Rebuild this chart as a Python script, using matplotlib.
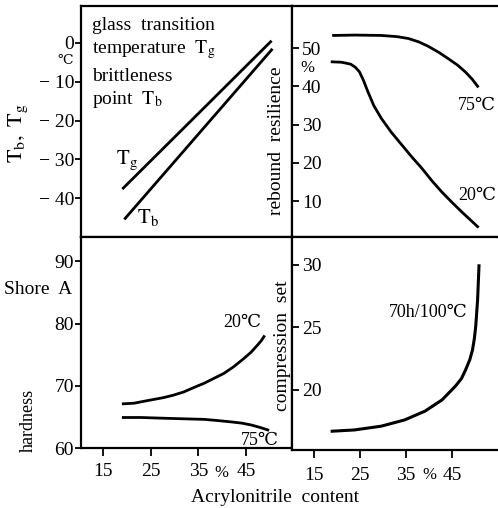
import matplotlib
matplotlib.use("Agg")
import matplotlib.pyplot as plt

plt.rcParams['font.family'] = ['Liberation Serif', 'DejaVu Serif', 'Noto Sans CJK SC']
plt.rcParams['mathtext.fontset'] = 'stix'

# --- data ---
# glass transition / brittleness (deg C) vs acrylonitrile content (%)
tg_x = [19.2, 50.2]
tg_y = [-37.4, 0.3]
tb_x = [19.6, 50.4]
tb_y = [-45.2, -1.8]

# rebound resilience (%)
res75_x = [19.3, 24.0, 29.6, 33.0, 35.5, 37.8, 39.9, 42.2, 44.3, 46.2, 47.9, 49.3, 50.5]
res75_y = [53.3, 53.4, 53.3, 53.0, 52.5, 51.6, 50.4, 48.8, 47.1, 45.5, 43.7, 41.9, 40.0]
res20_x = [19.0, 21.0, 23.0, 24.0, 24.9, 25.8, 26.7, 28.0, 29.6, 31.8, 34.0, 36.2, 38.4, 40.6, 42.8, 45.0, 47.2, 49.0, 50.5]
res20_y = [46.4, 46.3, 45.8, 45.0, 43.8, 41.5, 38.7, 35.0, 31.7, 28.0, 24.8, 21.6, 18.6, 15.3, 12.3, 9.6, 7.0, 5.0, 3.3]

# hardness (Shore A)
hard20_x = [19.2, 21.5, 23.5, 25.6, 27.7, 29.8, 31.9, 34.0, 36.2, 38.3, 40.4, 42.5, 44.6, 46.1, 47.4, 48.2, 48.8]
hard20_y = [67.1, 67.2, 67.5, 67.8, 68.1, 68.5, 69.0, 69.7, 70.4, 71.2, 72.0, 73.1, 74.4, 75.4, 76.5, 77.2, 77.9]
hard75_x = [19.2, 23.0, 27.0, 31.5, 36.2, 39.2, 41.8, 44.1, 46.1, 48.0, 49.6]
hard75_y = [64.9, 64.9, 64.8, 64.7, 64.6, 64.4, 64.2, 64.0, 63.7, 63.3, 62.9]

# compression set 70h/100C
cs_x = [19.0, 23.8, 29.6, 34.7, 39.1, 42.8, 45.7, 47.0, 47.9, 48.8, 49.4, 49.8, 50.1, 50.5, 50.8]
cs_y = [16.7, 16.8, 17.1, 17.6, 18.3, 19.2, 20.3, 20.9, 21.6, 22.4, 23.2, 24.1, 25.1, 27.2, 29.9]

x_ticks = [15, 25, 35, 45]

W, H = 498, 508
fig = plt.figure(figsize=(W / 100, H / 100), dpi=100)


def px_axes(x0, y0, x1, y1):
    return fig.add_axes([x0 / W, 1 - y1 / H, (x1 - x0) / W, (y1 - y0) / H])


ax_tl = px_axes(81, 6, 292, 237)
ax_tr = px_axes(292, 6, 497, 237)
ax_bl = px_axes(81, 237, 292, 448)
ax_br = px_axes(292, 237, 497, 450)

lw = 2.0
tick_fs = 14
txt_fs = 14

for ax in (ax_tl, ax_tr, ax_bl, ax_br):
    ax.set_xlim(10.3, 54.7)
    for s in ax.spines.values():
        s.set_linewidth(1.6)
    ax.tick_params(width=1.3, labelsize=tick_fs)

for ax in (ax_tr, ax_br):
    ax.spines['right'].set_visible(False)

# top-left: Tg / Tb
ax_tl.plot(tg_x, tg_y, color='black', lw=lw)
ax_tl.plot(tb_x, tb_y, color='black', lw=lw)
ax_tl.set_ylim(-50, 9.5)
ax_tl.set_yticks([0, -10, -20, -30, -40])
ax_tl.set_yticklabels(['0', '\u2212 10', '\u2212 20', '\u2212 30', '\u2212 40'])
ax_tl.set_xticks([])
ax_tl.tick_params(axis='y', direction='out', length=4, pad=1)
ax_tl.text(20.0, -30.2, r'$\mathrm{T_g}$', fontsize=txt_fs + 1, ha='center', va='center')
ax_tl.text(24.3, -44.9, r'$\mathrm{T_b}$', fontsize=txt_fs + 1, ha='center', va='center')
ax_tl.text(12.6, 4.6, 'glass  transition', fontsize=txt_fs, ha='left', va='center')
ax_tl.text(12.6, -1.6, r'temperature  $\mathrm{T_g}$', fontsize=txt_fs, ha='left', va='center')
ax_tl.text(12.6, -8.6, 'brittleness', fontsize=txt_fs, ha='left', va='center')
ax_tl.text(12.6, -14.6, r'point  $\mathrm{T_b}$', fontsize=txt_fs, ha='left', va='center')

# top-right: rebound resilience
ax_tr.plot(res75_x, res75_y, color='black', lw=lw)
ax_tr.plot(res20_x, res20_y, color='black', lw=lw)
ax_tr.set_ylim(0.6, 61)
ax_tr.set_yticks([50, 40, 30, 20, 10])
ax_tr.set_xticks([])
ax_tr.tick_params(axis='y', direction='in', length=5, pad=-7)
for lbl in ax_tr.get_yticklabels():
    lbl.set_horizontalalignment('left')
ax_tr.text(50.4, 35.0, '75\u2103', fontsize=txt_fs - 1, ha='center', va='center')
ax_tr.text(50.4, 11.5, '20\u2103', fontsize=txt_fs - 1, ha='center', va='center')
ax_tr.text(13.6, 44.8, '%', fontsize=txt_fs - 2, ha='center', va='center')

# bottom-left: hardness
ax_bl.plot(hard20_x, hard20_y, color='black', lw=lw)
ax_bl.plot(hard75_x, hard75_y, color='black', lw=lw)
ax_bl.set_ylim(60, 93.9)
ax_bl.set_yticks([60, 70, 80, 90])
ax_bl.set_xticks(x_ticks)
ax_bl.tick_params(axis='y', direction='out', length=4, pad=1)
ax_bl.tick_params(axis='x', direction='out', length=6, pad=5)
ax_bl.text(44.3, 80.2, '20\u2103', fontsize=txt_fs - 1, ha='center', va='center')
ax_bl.text(48.0, 61.2, '75\u2103', fontsize=txt_fs - 1, ha='center', va='center')
ax_bl.text(39.9, 56.0, '%', fontsize=txt_fs - 2, ha='center', va='center', clip_on=False)

# bottom-right: compression set
ax_br.plot(cs_x, cs_y, color='black', lw=2.2)
ax_br.set_ylim(15.2, 32.2)
ax_br.set_yticks([20, 25, 30])
ax_br.set_xticks(x_ticks)
ax_br.tick_params(axis='y', direction='in', length=5, pad=-7)
for lbl in ax_br.get_yticklabels():
    lbl.set_horizontalalignment('left')
ax_br.tick_params(axis='x', direction='out', length=6, pad=6)
ax_br.text(39.9, 26.2, '70h/100\u2103', fontsize=txt_fs - 1, ha='center', va='center')
ax_br.text(40.0, 13.2, '%', fontsize=txt_fs - 2, ha='center', va='center', clip_on=False)

# axis titles placed as in the original scan
fig.text(18 / W, 1 - 133 / H, r'$\mathrm{T_b,\ T_g}$', rotation=90, fontsize=txt_fs + 2,
         ha='center', va='center')
fig.text(65 / W, 1 - 61 / H, '\u2103', fontsize=10, ha='center', va='center')
fig.text(276 / W, 1 - 141 / H, 'rebound  resilience', rotation=90, fontsize=txt_fs,
         ha='center', va='center')
fig.text(38 / W, 1 - 290 / H, 'Shore  A', fontsize=txt_fs, ha='center', va='center')
fig.text(28 / W, 1 - 420 / H, 'hardness', rotation=90, fontsize=13,
         ha='center', va='center')
fig.text(282 / W, 1 - 346 / H, 'compression  set', rotation=90, fontsize=txt_fs,
         ha='center', va='center')
fig.text(275 / W, 1 - 497 / H, 'Acrylonitrile  content', fontsize=txt_fs,
         ha='center', va='center')

fig.savefig('out.png', dpi=100, facecolor='white')
